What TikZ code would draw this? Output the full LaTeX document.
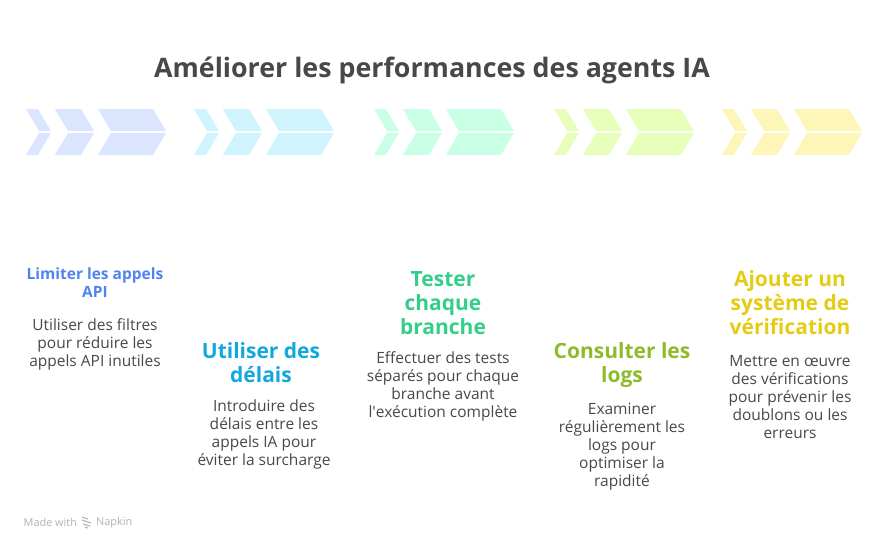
\documentclass[tikz,border=0pt]{standalone}
\usepackage{fontspec}
\setmainfont{Open Sans}
\newfontfamily\plainfont{Open Sans}
\definecolor{cA}{HTML}{DBE6FE}\definecolor{cB}{HTML}{CFF4FE}\definecolor{cC}{HTML}{C8FFE5}\definecolor{cD}{HTML}{E7FFBB}\definecolor{cE}{HTML}{FEF6B9}
\definecolor{tA}{HTML}{4F84F0}\definecolor{tB}{HTML}{12A8DC}\definecolor{tC}{HTML}{34CE8B}\definecolor{tD}{HTML}{8DBB2C}\definecolor{tE}{HTML}{E4CC15}
\definecolor{ink}{HTML}{484848}
\tikzset{
 titletext/.style={inner sep=0,text=ink,font=\fontsize{26.8}{30}\selectfont\bfseries},
 bighead/.style={inner sep=0,align=center,anchor=north,font=\fontsize{21}{24}\selectfont\bfseries},
 smallhead/.style={inner sep=0,align=center,anchor=north,font=\fontsize{15.5}{18}\selectfont\bfseries},
 bodytext/.style={inner sep=0,align=center,anchor=north,text=ink,font=\fontsize{15.5}{18}\selectfont},
 credit/.style={inner sep=0,anchor=west,text=black!30,font=\fontsize{10.9}{12}\selectfont}
}
\begin{document}
\begin{tikzpicture}[x=1pt,y=-1pt]
\useasboundingbox (0,0) rectangle (888,550);
\foreach \off/\c in {0/cA,168/cB,348/cC,528/cD,696/cE}{
 \begin{scope}[xshift=\off pt,fill=\c]
  \fill (26,109)--(38,109)--(51,131)--(39,131)--cycle;
  \fill (26,155)--(38,155)--(51,133)--(39,133)--cycle;
  \fill (54.7,109)--(81,109)--(94,131)--(68,131)--cycle;
  \fill (54.7,155)--(81,155)--(94,133)--(68,133)--cycle;
  \fill (98,109)--(153,109)--(166,131)--(110.7,131)--cycle;
  \fill (98,155)--(153,155)--(166,133)--(110.7,133)--cycle;
 \end{scope}
}
\node[titletext] (title) at (432,70) {Améliorer les performances des agents IA};
\node[smallhead,text=tA] (h1) at (95,268) {Limiter les appels\\API};
\node[bodytext] (b1) at (95,318.5) {Utiliser des filtres\\pour réduire les\\appels API inutiles};
\node[bighead,text=tB] (h2) at (261,342) {Utiliser des\\délais};
\node[bodytext] (b2) at (264,400) {Introduire des\\délais entre les\\appels IA pour\\éviter la surcharge};
\node[bighead,text=tC] (h3) at (443,271) {Tester\\chaque\\branche};
\node[bodytext] (b3) at (443,351.5) {Effectuer des tests\\séparés pour chaque\\branche avant\\l{\plainfont'}exécution complète};
\node[bighead,text=tD] (h4) at (622,342) {Consulter les\\logs};
\node[bodytext] (b4) at (622,403) {Examiner\\régulièrement les\\logs pour\\optimiser la\\rapidité};
\node[bighead,text=tE] (h5) at (790,270) {Ajouter un\\système de\\vérification};
\node[bodytext] (b5) at (790,355) {Mettre en œuvre\\des vérifications\\pour prévenir les\\doublons ou les\\erreurs};
\node[credit] (m) at (23.5,522.5) {Made with};
\node[credit] (n) at (96,522.5) {Napkin};
\begin{scope}[black!30,line width=1.1pt]
 \draw (82,517)--(88,519) (82,520)--(91,523) (83,524)--(90,526) (85,527)--(88,528);
\end{scope}
\end{tikzpicture}
\end{document}
